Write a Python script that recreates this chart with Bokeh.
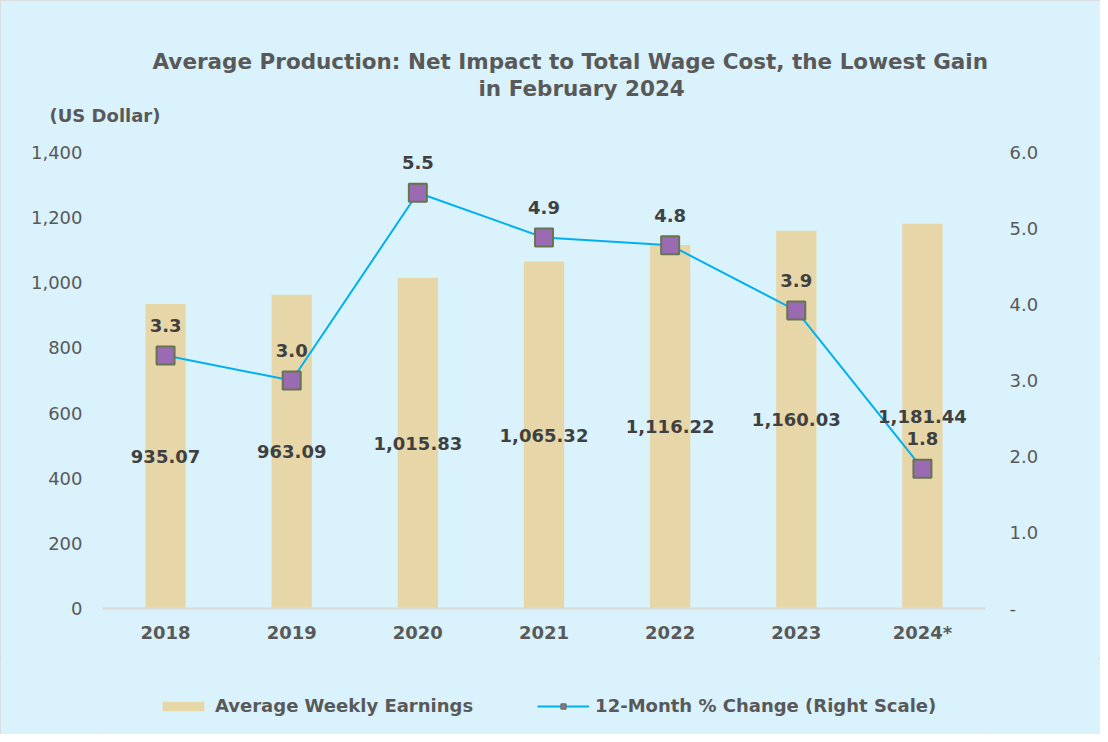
from bokeh.plotting import figure
from bokeh.layouts import column
from bokeh.models import (Range1d, LinearAxis, FixedTicker, NumeralTickFormatter,
                          Title, Legend, LegendItem, ColumnDataSource, FactorRange)
from bokeh.embed import file_html
from bokeh.resources import INLINE
from bokeh.core.properties import value

# ---- data ----
years = ["2018", "2019", "2020", "2021", "2022", "2023", "2024*"]
earnings = [935.07, 963.09, 1015.83, 1065.32, 1116.22, 1160.03, 1181.44]
pct_change = [3.33, 3.00, 5.47, 4.88, 4.78, 3.92, 1.84]
pct_labels = ["3.3", "3.0", "5.5", "4.9", "4.8", "3.9", "1.8"]
left_ticks = [0, 200, 400, 600, 800, 1000, 1200, 1400]
right_ticks = [0, 1, 2, 3, 4, 5, 6]

title_1 = "Average Production: Net Impact to Total Wage Cost,  the Lowest Gain"
title_2 = "in February 2024"
unit_label = "(US Dollar)"
bar_name = "Average Weekly Earnings"
line_name = "12-Month % Change (Right Scale)"

# ---- style ----
BG = "#DAF2FC"
BAR = "#E7D7A8"
LINE = "#00B0F0"
MK_FILL = "#9A6BB3"
MK_LINE = "#66744F"
TXT = "#404040"
AX = "#595959"
FONT = "DejaVu Sans"
FS = "18px"

W = 1100
FL, FR = 102, 115
M_TOP = 127          # border above the frame (titles live here)
PLOT_H = 456         # pixel height of the 0..1400 scale
EXT = 25             # empty frame strip above the top tick
M_BOT = 50
MAIN_H = M_TOP + EXT + PLOT_H + M_BOT
LEG_H = 734 - MAIN_H
YMAX, RMAX = 1400, 6

src = ColumnDataSource(dict(
    x=years, y=earnings, mid=[e / 2 for e in earnings],
    lab=[f"{e:,.2f}" for e in earnings],
    pct=pct_change, plab=pct_labels,
))

p = figure(width=W, height=MAIN_H, x_range=FactorRange(*years),
           y_range=Range1d(0, YMAX * (PLOT_H + EXT) / PLOT_H),
           output_backend="svg", toolbar_location=None,
           min_border_left=FL, min_border_right=FR, min_border_top=M_TOP,
           min_border_bottom=M_BOT)
p.extra_y_ranges = {"pct": Range1d(0, RMAX * (PLOT_H + EXT) / PLOT_H)}
p.background_fill_color = BG
p.border_fill_color = BG
p.outline_line_color = None
p.grid.visible = False

p.vbar(x="x", top="y", width=0.32, source=src, fill_color=BAR, line_color=None)
p.line(x="x", y="pct", source=src, y_range_name="pct", line_color=LINE,
       line_width=2)
p.scatter(x="x", y="pct", source=src, y_range_name="pct", marker="square",
          size=18, fill_color=MK_FILL, line_color=MK_LINE, line_width=2)

p.text(x="x", y="mid", text="lab", source=src, text_align="center",
       text_baseline="middle", text_font=value(FONT), text_font_style="bold",
       text_font_size=FS, text_color=TXT)
p.text(x="x", y="pct", text="plab", source=src, y_range_name="pct",
       y_offset=-30, text_align="center", text_baseline="middle",
       text_font=value(FONT), text_font_style="bold", text_font_size=FS,
       text_color=TXT)

xa = p.xaxis[0]
xa.axis_line_color = "#d9d9d9"
xa.axis_line_width = 2
xa.major_tick_line_color = None
xa.minor_tick_line_color = None
xa.major_label_text_font = FONT
xa.major_label_text_font_style = "bold"
xa.major_label_text_font_size = FS
xa.major_label_text_color = AX
xa.major_label_standoff = 7

ya = p.yaxis[0]
ya.ticker = FixedTicker(ticks=left_ticks)
ya.formatter = NumeralTickFormatter(format="0,0")
ya.axis_line_color = None
ya.major_tick_line_color = None
ya.minor_tick_line_color = None
ya.major_label_text_font = FONT
ya.major_label_text_font_size = FS
ya.major_label_text_color = AX
ya.major_label_standoff = 14

ra = LinearAxis(y_range_name="pct", ticker=FixedTicker(ticks=right_ticks),
                formatter=NumeralTickFormatter(format="0.0"),
                major_label_overrides={0: "-"})
ra.axis_line_color = None
ra.major_tick_line_color = None
ra.minor_tick_line_color = None
ra.major_label_text_font = FONT
ra.major_label_text_font_size = FS
ra.major_label_text_color = AX
ra.major_label_standoff = 18
p.add_layout(ra, "right")

# titles: stacked outward from the frame
p.title.text = ""
p.add_layout(Title(text=unit_label, align="left", offset=-53, text_font=FONT,
                   text_font_style="bold", text_font_size=FS, text_color=AX,
                   standoff=3), "above")
p.add_layout(Title(text=title_2, align="left", offset=376, text_font=FONT,
                   text_font_style="bold", text_font_size="21.5px",
                   text_color=AX, standoff=1), "above")
p.add_layout(Title(text=title_1, align="left", offset=50, text_font=FONT,
                   text_font_style="bold", text_font_size="21.5px",
                   text_color=AX, standoff=0), "above")

# ---- legend strip: same data, scaled far out of view, only the legend shows ----
leg = figure(width=W, height=LEG_H, x_range=FactorRange(*years),
             y_range=Range1d(5000, 5001), x_axis_type=None, y_axis_type=None,
             output_backend="svg", toolbar_location=None,
             min_border_left=FL, min_border_right=FR, min_border_top=0,
             min_border_bottom=0)
leg.background_fill_color = BG
leg.border_fill_color = BG
leg.outline_line_color = None
leg.grid.visible = False
lb = leg.vbar(x="x", top="y", width=0.32, source=src, fill_color=BAR,
              line_color=None)
ll = leg.line(x="x", y="pct", source=src, line_color=LINE, line_width=2)
lm = leg.scatter(x="x", y="pct", source=src, marker="square", size=18,
                 fill_color=MK_FILL, line_color=MK_LINE, line_width=1.5)
legend = Legend(items=[LegendItem(label=bar_name, renderers=[lb]),
                       LegendItem(label=line_name, renderers=[ll, lm])],
                orientation="horizontal", location=(55, 18),
                background_fill_alpha=0, border_line_color=None,
                glyph_width=52, glyph_height=12, label_standoff=6,
                spacing=64, padding=0, margin=0,
                label_text_font=FONT, label_text_font_style="bold",
                label_text_font_size=FS, label_text_color=AX)
leg.add_layout(legend, "center")

page = column(p, leg, spacing=0)
page.styles = {"background-color": BG, "outline": "2px solid #d9d9d9",
               "outline-offset": "-2px"}

open("out.html", "w").write(file_html(page, INLINE))
